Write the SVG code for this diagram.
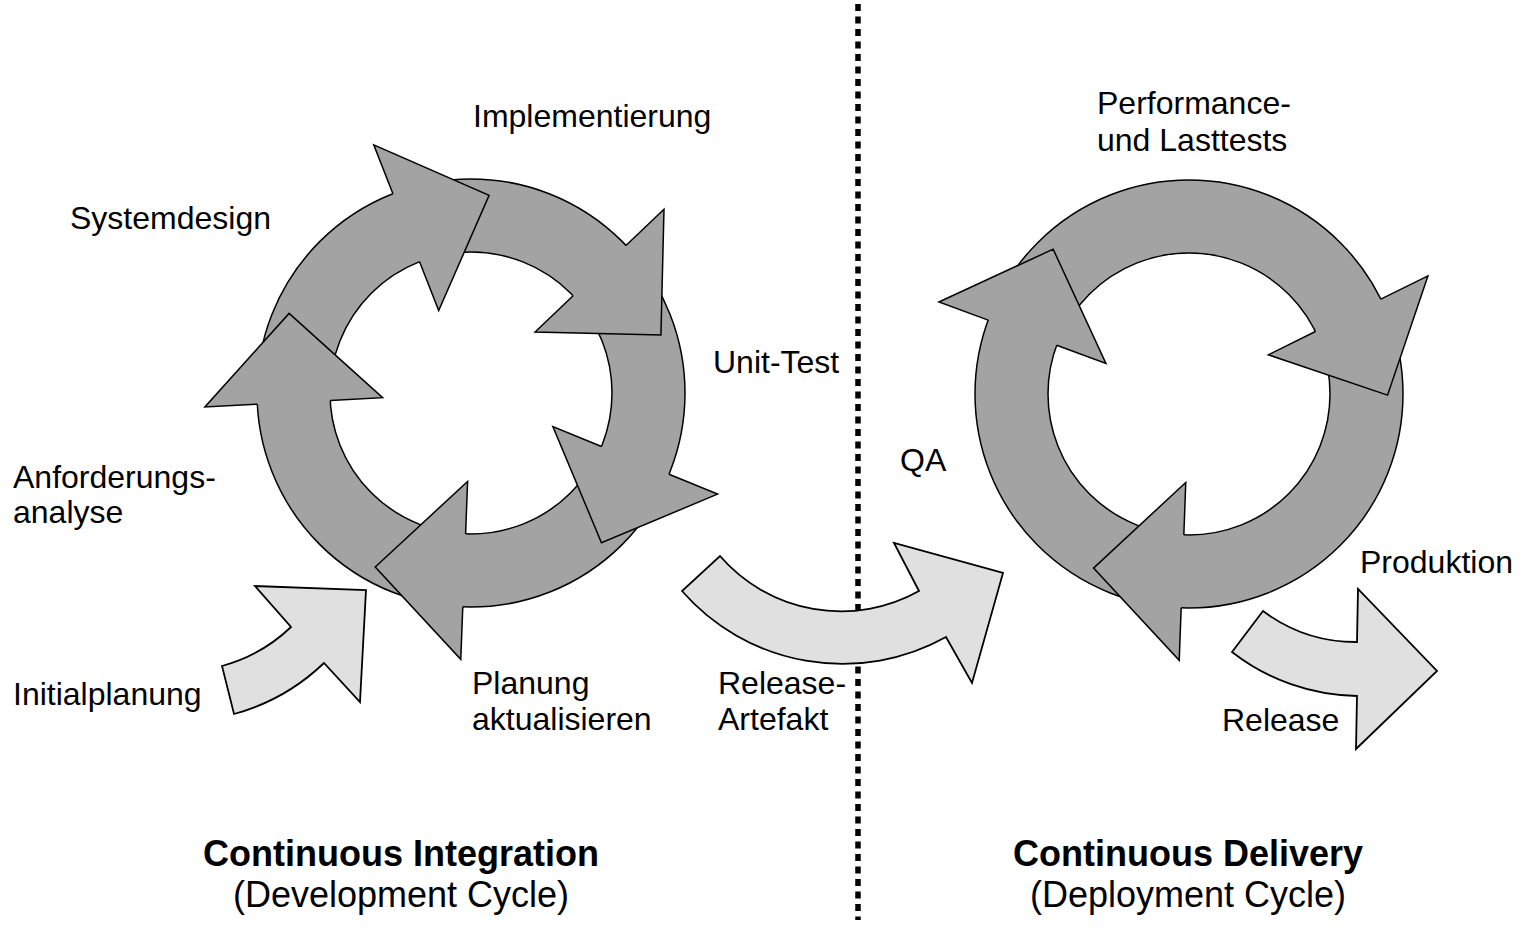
<svg xmlns="http://www.w3.org/2000/svg" width="1536" height="952" viewBox="0 0 1536 952">
<defs>
<style>
.ring{fill:#a3a3a3;stroke:#000;stroke-width:1.5;fill-rule:evenodd}
.head{fill:#a3a3a3;stroke:#000;stroke-width:1.5;stroke-linejoin:miter}
.light{fill:#e0e0e0;stroke:#000;stroke-width:1.8;stroke-linejoin:miter}
.lbl{font-family:"Liberation Sans",Arial,Helvetica,sans-serif;font-size:32px;fill:#000}
.ttl{font-family:"Liberation Sans",Arial,Helvetica,sans-serif;font-size:36px;fill:#000;text-anchor:middle}
.b{font-weight:bold}
.sep{stroke:#000;stroke-width:5.5;stroke-dasharray:7 5.5;fill:none}
</style>
<path id="hd" d="M214,0 L266.5,0 L177.5,89 L88.5,0 L141,0"/>
</defs>
<rect width="1536" height="952" fill="#fff"/>
<g id="separator">
<line class="sep" x1="858" y1="4" x2="858" y2="920"/>
</g>
<g id="ci-cycle">
<path class="ring" d="M257,393 A214,214 0 1,1 685,393 A214,214 0 1,1 257,393 Z M330,393 A141,141 0 1,1 612,393 A141,141 0 1,1 330,393 Z"/>
<use class="head" href="#hd" transform="translate(471 393) rotate(-111.4)"/>
<use class="head" href="#hd" transform="translate(471 393) rotate(-43.6)"/>
<use class="head" href="#hd" transform="translate(471 393) rotate(22.3)"/>
<use class="head" href="#hd" transform="translate(471 393) rotate(92.2)"/>
<use class="head" href="#hd" transform="translate(471 393) rotate(177)"/>
</g>
<g id="cd-cycle">
<path class="ring" d="M975,394 A214,214 0 1,1 1403,394 A214,214 0 1,1 975,394 Z M1048,394 A141,141 0 1,1 1330,394 A141,141 0 1,1 1048,394 Z"/>
<use class="head" href="#hd" transform="translate(1189 394) rotate(-159.8)"/>
<use class="head" href="#hd" transform="translate(1189 394) rotate(-26.3)"/>
<use class="head" href="#hd" transform="translate(1189 394) rotate(92.1)"/>
</g>
<g id="connectors">
<path id="initialplanung-arrow" class="light" d="M222,666 A161,161 0 0,0 291,627 L255,586 L366,590 L360,702 L324,663 A210,210 0 0,1 234,714 Z"/>
<path id="release-artefakt-arrow" class="light" d="M720,556 A160,160 0 0,0 919,591 L894,543 L1003,573 L972,683 L946,637 A213,213 0 0,1 682,591 Z"/>
<path id="release-arrow" class="light" d="M1263,611 A155,155 0 0,0 1357,642 L1358,589 L1437,671 L1356,749 L1357,696 A208,208 0 0,1 1232,652 Z"/>
</g>
<g id="labels">
<text class="lbl" x="473" y="127">Implementierung</text>
<text class="lbl" x="70" y="229">Systemdesign</text>
<text class="lbl" x="713" y="373">Unit-Test</text>
<text class="lbl" x="13" y="488">Anforderungs-</text>
<text class="lbl" x="13" y="523">analyse</text>
<text class="lbl" x="13" y="705">Initialplanung</text>
<text class="lbl" x="472" y="694">Planung</text>
<text class="lbl" x="472" y="730">aktualisieren</text>
<text class="lbl" x="718" y="694">Release-</text>
<text class="lbl" x="718" y="730">Artefakt</text>
<text class="lbl" x="1097" y="114">Performance-</text>
<text class="lbl" x="1097" y="151">und Lasttests</text>
<text class="lbl" x="900" y="471">QA</text>
<text class="lbl" x="1360" y="573">Produktion</text>
<text class="lbl" x="1222" y="731">Release</text>
</g>
<g id="ci-title">
<text class="ttl b" x="401" y="866">Continuous Integration</text>
<text class="ttl" x="401" y="907">(Development Cycle)</text>
</g>
<g id="cd-title">
<text class="ttl b" x="1188" y="866">Continuous Delivery</text>
<text class="ttl" x="1188" y="907">(Deployment Cycle)</text>
</g>
</svg>
